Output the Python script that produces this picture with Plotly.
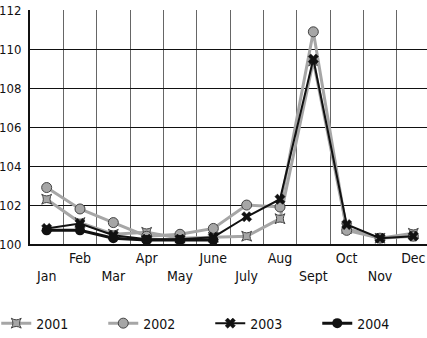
import plotly.graph_objects as go

months = ["Jan", "Feb", "Mar", "Apr", "May", "June", "July", "Aug", "Sept", "Oct", "Nov", "Dec"]
y2001 = [102.3, 101.1, 100.5, 100.6, 100.3, 100.35, 100.4, 101.3, 109.4, 100.8, 100.3, 100.55]
y2002 = [102.9, 101.8, 101.1, 100.4, 100.5, 100.8, 102.0, 101.9, 110.9, 100.7, 100.3, 100.4]
y2003 = [100.8, 101.05, 100.45, 100.25, 100.25, 100.35, 101.4, 102.3, 109.5, 101.0, 100.3, 100.4]
y2004 = [100.7, 100.7, 100.3, 100.2, 100.2, 100.2, None, None, None, None, None, None]
yticks = [100, 102, 104, 106, 108, 110, 112]

idx = list(range(len(months)))
ticktext = [m if i % 2 == 1 else "<br>" + m for i, m in enumerate(months)]
grey = "#a6a6a6"
FONT = "DejaVu Sans Condensed, Liberation Sans Narrow, sans-serif"

fig = go.Figure()
fig.add_trace(go.Scatter(x=idx, y=y2001, name="2001", mode="lines+markers",
                         line=dict(color=grey, width=3),
                         marker=dict(symbol="star-square", size=9, color=grey,
                                     line=dict(color="#444", width=1))))
fig.add_trace(go.Scatter(x=idx, y=y2002, name="2002", mode="lines+markers",
                         line=dict(color=grey, width=3),
                         marker=dict(symbol="circle", size=10, color=grey,
                                     line=dict(color="#444", width=1))))
fig.add_trace(go.Scatter(x=idx, y=y2003, name="2003", mode="lines+markers",
                         line=dict(color="#111", width=2),
                         marker=dict(symbol="x", size=9, color="#111",
                                     line=dict(color="#111", width=0.5))))
fig.add_trace(go.Scatter(x=idx, y=y2004, name="2004", mode="lines+markers",
                         line=dict(color="#111", width=3),
                         marker=dict(symbol="circle", size=10, color="#111")))

fig.update_layout(
    template="none",
    width=427, height=338,
    margin=dict(l=30, r=0, t=10, b=94, autoexpand=False),
    paper_bgcolor="white", plot_bgcolor="white",
    font=dict(family=FONT, size=14, color="#111"),
    showlegend=True,
    legend=dict(orientation="h", x=-0.085, xanchor="left", y=-0.34, yanchor="middle",
                entrywidth=62, entrywidthmode="pixels", font=dict(size=14),
                bgcolor="rgba(0,0,0,0)", itemclick=False),
)
fig.update_xaxes(range=[-0.5, 11.41], tickvals=idx, ticktext=ticktext, automargin=False,
                 showgrid=False, zeroline=False, showline=True, linecolor="#111", linewidth=2,
                 ticks="", tickfont=dict(size=14),
                 minor=dict(tickvals=[i + 0.5 for i in idx], showgrid=True,
                            gridcolor="#666", gridwidth=1, ticks=""))
fig.update_yaxes(range=[100, 112.02], tickvals=yticks, showgrid=True, gridcolor="#111", gridwidth=1,
                 automargin=False,
                 zeroline=False, showline=True, linecolor="#111", linewidth=2, ticks="",
                 ticklabelstandoff=4, tickfont=dict(size=13))

fig.write_html("out.html", config={"displayModeBar": False},
               post_script="document.body.style.margin='0';document.body.style.overflow='hidden';")
